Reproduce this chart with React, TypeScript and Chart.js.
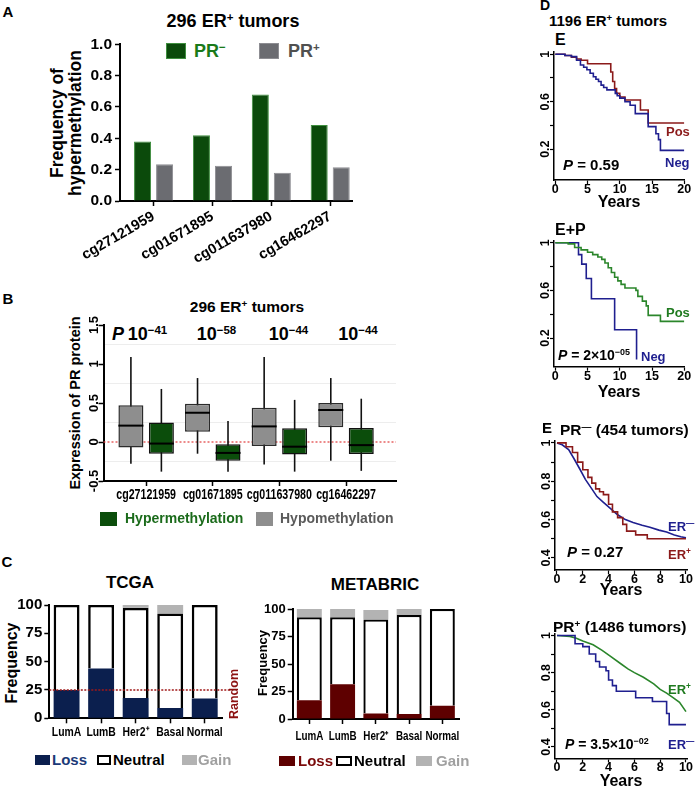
import React, { useEffect, useRef } from 'react';
import { Chart, registerables } from 'chart.js';

Chart.register(...registerables);

const FONT = "'Liberation Sans', Arial, Helvetica, sans-serif";
Chart.defaults.font.family = FONT;
Chart.defaults.color = '#000';

// ---------------- data ----------------
// Panel A
const probes = ['cg27121959', 'cg01671895', 'cg011637980', 'cg16462297'];
const prNegFreq = [0.38, 0.42, 0.68, 0.485];
const prPosFreq = [0.235, 0.225, 0.18, 0.215];
const freqTicks = [0, 0.2, 0.4, 0.6, 0.8, 1.0];

// Panel B (box plots)
const hypoMin = [-0.28, -0.15, -0.29, -0.24];
const hypoQ1 = [-0.07, 0.13, -0.05, 0.19];
const hypoMed = [0.21, 0.375, 0.2, 0.41];
const hypoQ3 = [0.47, 0.49, 0.44, 0.5];
const hypoMax = [1.09, 0.82, 1.09, 0.82];
const hyperMin = [-0.38, -0.38, -0.38, -0.37];
const hyperQ1 = [-0.15, -0.24, -0.16, -0.155];
const hyperMed = [-0.02, -0.14, -0.06, -0.04];
const hyperQ3 = [0.25, -0.03, 0.175, 0.18];
const hyperMax = [0.68, 0.27, 0.54, 0.555];
const pExp = ['−41', '−58', '−44', '−44'];

// Panel C
const subtypes = ['LumA', 'LumB', 'Her2⁺', 'Basal', 'Normal'];
const tcgaLoss = [25, 44, 18, 9, 17.5];
const tcgaNeutral = [75, 56, 79.5, 83.5, 82.5];
const tcgaGain = [0, 0, 2.5, 7.5, 0];
const metaLoss = [17, 31.5, 5, 4.5, 12];
const metaNeutral = [75.5, 61, 85.5, 90, 88];
const metaGain = [7.5, 7.5, 8.5, 5.5, 0];
const randomLevel = 25;
const pctTicks = [0, 25, 50, 75, 100];

// Panel D (Kaplan-Meier, 1196 ER+ tumors)
const years20 = [0, 5, 10, 15, 20];
const ePosT = [0, 1.5, 2.5, 3.3, 4.0, 5.0, 8.6, 8.9, 9.2, 9.5, 10.0, 10.8, 13.2, 14.4, 20];
const ePosS = [1, 0.99, 0.975, 0.96, 0.95, 0.92, 0.85, 0.77, 0.71, 0.67, 0.64, 0.615, 0.53, 0.42, 0.42];
const eNegT = [0, 1.5, 2.5, 3.3, 3.9, 4.4, 4.9, 5.4, 5.9, 6.3, 6.7, 7.1, 7.5, 8.0, 9.3, 9.6, 10.0, 10.8, 11.6, 12.4, 14.4, 15.6, 16.0, 16.3, 20];
const eNegS = [1, 0.99, 0.98, 0.95, 0.91, 0.89, 0.87, 0.84, 0.81, 0.79, 0.77, 0.74, 0.72, 0.7, 0.67, 0.65, 0.63, 0.6, 0.57, 0.5, 0.39, 0.33, 0.28, 0.19, 0.19];
const epPosT = [0, 2.0, 3.0, 4.0, 5.0, 5.8, 6.6, 7.2, 7.7, 8.2, 8.7, 9.2, 9.7, 10.2, 10.8, 12.5, 12.8, 13.5, 14.1, 14.4, 16.3, 20];
const epPosS = [1, 0.99, 0.96, 0.94, 0.92, 0.9, 0.88, 0.86, 0.83, 0.79, 0.75, 0.71, 0.68, 0.65, 0.62, 0.6, 0.55, 0.51, 0.47, 0.39, 0.34, 0.34];
const epNegT = [0, 3.6, 4.1, 4.8, 5.6, 9.2, 12.6];
const epNegS = [1, 0.9, 0.82, 0.7, 0.53, 0.27, 0.02];
const dSurvTicks = [0.2, 0.4, 0.6, 0.8, 1];
const dSurvLabels = ['0.2', '', '0.6', '', '1'];

// Panel E (Kaplan-Meier by PR status)
const years10 = [0, 2, 4, 6, 8, 10];
const prnErNegT = [0, 0.4, 0.9, 1.3, 1.8, 2.2, 2.7, 3.1, 3.6, 4.2, 4.7, 5.3, 5.9, 6.6, 7.2, 7.9, 8.5, 9.1, 9.6, 10];
const prnErNegS = [1, 0.99, 0.965, 0.92, 0.86, 0.81, 0.76, 0.72, 0.69, 0.655, 0.625, 0.6, 0.585, 0.57, 0.56, 0.545, 0.535, 0.52, 0.51, 0.505];
const prnErPosT = [0, 0.7, 1.2, 1.6, 2.0, 2.4, 2.7, 3.0, 3.3, 3.6, 4.0, 4.3, 4.7, 5.1, 5.4, 6.1, 7.0, 10];
const prnErPosS = [1, 0.98, 0.95, 0.9, 0.86, 0.82, 0.79, 0.76, 0.745, 0.73, 0.68, 0.64, 0.61, 0.575, 0.54, 0.52, 0.5, 0.5];
const prpErPosT = [0, 1.0, 1.5, 2.0, 2.8, 3.5, 4.1, 5.0, 5.5, 6.0, 6.7, 7.5, 8.0, 8.5, 9.0, 9.5, 10];
const prpErPosS = [1, 0.995, 0.985, 0.97, 0.95, 0.92, 0.89, 0.845, 0.82, 0.8, 0.775, 0.74, 0.71, 0.69, 0.665, 0.64, 0.59];
const prpErNegT = [0, 1.4, 2.0, 2.5, 3.0, 3.3, 3.8, 4.0, 4.3, 4.6, 6.1, 7.4, 8.5, 8.7, 10];
const prpErNegS = [1, 0.955, 0.94, 0.9, 0.86, 0.83, 0.81, 0.76, 0.73, 0.7, 0.665, 0.645, 0.58, 0.52, 0.52];
const eSurvTicks = [0.4, 0.5, 0.6, 0.7, 0.8, 0.9, 1];
const eSurvLabels = ['0.4', '', '0.6', '', '0.8', '', '1'];

// colours
const GREEN_BAR = '#0b4a0b';
const GREY_BAR = '#6b6c71';
const NAVY = '#1f1f8f';
const DARKRED = '#8b1a1a';
const KMGREEN = '#2b862b';

// ---------------- helpers ----------------
type Area = { l: number; t: number; r: number; b: number };
type Margins = { ml: number; mt: number; mr: number; mb: number };

function ChartBox({ area, m, make }: { area: Area; m: Margins; make: (mm: Margins) => any }) {
  const ref = useRef<HTMLCanvasElement>(null);
  const left = Math.floor(area.l - m.ml);
  const top = Math.floor(area.t - m.mt);
  const width = Math.ceil(area.r + m.mr - left);
  const height = Math.ceil(area.b + m.mb - top);
  const mm = { ml: area.l - left, mt: area.t - top, mr: left + width - area.r, mb: top + height - area.b };
  useEffect(() => {
    const chart = new Chart(ref.current as HTMLCanvasElement, make(mm));
    return () => chart.destroy();
  }, []);
  return (
    <canvas ref={ref} width={width} height={height}
      style={{ position: 'absolute', left, top, width, height }} />
  );
}

function baseOptions(mm: Margins, scales: any) {
  return {
    responsive: false,
    animation: false,
    events: [],
    layout: { padding: { left: 0, top: mm.mt, right: mm.mr, bottom: 0 } },
    plugins: { legend: { display: false }, tooltip: { enabled: false }, title: { display: false } },
    scales,
  };
}

function xAxis(mm: Margins, o: any) {
  const ticks: any = {
    display: o.showTicks !== false,
    autoSkip: false, color: '#000', font: { family: FONT, size: o.fs, weight: '700' },
    padding: o.pad === undefined ? 2 : o.pad,
    minRotation: o.rot || 0, maxRotation: o.rot || 0,
  };
  if (o.cb) ticks.callback = o.cb;
  const ax: any = {
    type: o.type || 'linear',
    offset: o.offset || false,
    stacked: o.stacked || false,
    afterFit: (s: any) => { s.height = mm.mb; },
    border: { display: true, color: '#000', width: o.bw || 2 },
    grid: { display: true, drawOnChartArea: false, drawTicks: true, tickLength: o.tl || 5, color: '#000', tickWidth: o.tw || 1.5, offset: false },
    ticks,
  };
  if (o.min !== undefined) ax.min = o.min;
  if (o.max !== undefined) ax.max = o.max;
  if (o.tickValues) ax.afterBuildTicks = (s: any) => { s.ticks = o.tickValues.map((v: number) => ({ value: v })); };
  return ax;
}

function yAxis(mm: Margins, o: any) {
  const ticks: any = {
    display: o.showTicks !== false, color: '#000', font: { family: FONT, size: o.fs || 12, weight: '700' },
    padding: o.pad === undefined ? 3 : o.pad,
  };
  if (o.cb) ticks.callback = o.cb;
  const ax: any = {
    type: 'linear',
    min: o.min,
    max: o.max,
    stacked: o.stacked || false,
    afterFit: (s: any) => { s.width = mm.ml; },
    border: { display: true, color: '#000', width: o.bw || 2 },
    grid: o.grid || { display: true, drawOnChartArea: false, drawTicks: true, tickLength: o.tl || 5, color: '#000', tickWidth: o.tw || 1.5 },
    ticks,
  };
  if (o.tickValues) ax.afterBuildTicks = (s: any) => { s.ticks = o.tickValues.map((v: number) => ({ value: v })); };
  return ax;
}

function rotatedYLabels(ticks: number[], labels: string[], size: number, gap: number) {
  return {
    id: 'rotYLabels',
    afterDraw(chart: any) {
      const s = chart.scales.y;
      const ctx = chart.ctx;
      ctx.save();
      ctx.font = `bold ${size}px ${FONT}`;
      ctx.fillStyle = '#000';
      ctx.textAlign = 'center';
      ctx.textBaseline = 'middle';
      ticks.forEach((v, i) => {
        const lbl = labels[i];
        if (!lbl) return;
        const y = s.getPixelForValue(v);
        ctx.save();
        ctx.translate(s.right - gap, y);
        ctx.rotate(-Math.PI / 2);
        ctx.fillText(lbl, 0, 0);
        ctx.restore();
      });
      ctx.restore();
    },
  };
}

// condensed category labels drawn under the x axis (through the x scale)
function condensedXLabels(labels: string[], size: number, squeeze: number, dy: number) {
  return {
    id: 'condensedX',
    afterDraw(chart: any) {
      const s = chart.scales.x;
      const ctx = chart.ctx;
      ctx.save();
      ctx.font = `bold ${size}px ${FONT}`;
      ctx.fillStyle = '#000';
      ctx.textAlign = 'center';
      ctx.textBaseline = 'middle';
      labels.forEach((lbl, i) => {
        const x = s.getPixelForValue(i);
        ctx.save();
        ctx.translate(x, s.top + dy);
        ctx.scale(squeeze, 1);
        ctx.fillText(lbl, 0, 0);
        ctx.restore();
      });
      ctx.restore();
    },
  };
}

// ---------------- chart configs ----------------
const makeA = (mm: Margins) => ({
  type: 'bar',
  data: {
    datasets: [
      { label: 'PR−', data: prNegFreq.map((v, i) => ({ x: i, y: v })), backgroundColor: GREEN_BAR, borderColor: '#3f8f3f', borderWidth: 1, categoryPercentage: 0.748, barPercentage: 0.773 },
      { label: 'PR+', data: prPosFreq.map((v, i) => ({ x: i, y: v })), backgroundColor: GREY_BAR, borderColor: '#8d8d92', borderWidth: 1, categoryPercentage: 0.748, barPercentage: 0.773 },
    ],
  },
  options: baseOptions(mm, {
    x: xAxis(mm, { min: -0.57, max: 3.37, tickValues: probes.map((_, i) => i), cb: (v: number) => probes[v], fs: 14.5, rot: 30, pad: 2 }),
    y: yAxis(mm, { min: 0, max: 1, tickValues: freqTicks, cb: (v: number) => v.toFixed(1), fs: 15.5 }),
  }),
});

const boxWhiskerPlugin = () => ({
  id: 'boxWhisker',
  beforeDatasetsDraw(chart: any) {
    const { ctx, chartArea } = chart;
    const y = chart.scales.y;
    ctx.save();
    ctx.strokeStyle = '#e03c3c';
    ctx.lineWidth = 1.2;
    ctx.setLineDash([2, 2]);
    const y0 = y.getPixelForValue(0);
    ctx.beginPath();
    ctx.moveTo(chartArea.left, y0);
    ctx.lineTo(chartArea.right, y0);
    ctx.stroke();
    ctx.setLineDash([]);
    ctx.strokeStyle = '#111';
    ctx.lineWidth = 1.6;
    [[hypoMin, hypoMax], [hyperMin, hyperMax]].forEach(([lo, hi], di) => {
      chart.getDatasetMeta(di).data.forEach((el: any, i: number) => {
        ctx.beginPath();
        ctx.moveTo(el.x, y.getPixelForValue(lo[i]));
        ctx.lineTo(el.x, y.getPixelForValue(hi[i]));
        ctx.stroke();
      });
    });
    ctx.restore();
  },
  afterDatasetsDraw(chart: any) {
    const { ctx } = chart;
    const y = chart.scales.y;
    ctx.save();
    ctx.strokeStyle = '#000';
    ctx.lineWidth = 2;
    [hypoMed, hyperMed].forEach((med, di) => {
      chart.getDatasetMeta(di).data.forEach((el: any, i: number) => {
        const py = y.getPixelForValue(med[i]);
        ctx.beginPath();
        ctx.moveTo(el.x - el.width / 2, py);
        ctx.lineTo(el.x + el.width / 2, py);
        ctx.stroke();
      });
    });
    ctx.restore();
  },
});

const bTicks = [-0.5, -0.25, 0, 0.25, 0.5, 0.75, 1, 1.25, 1.5];
const isHalf = (v: number) => Math.abs(v * 2 - Math.round(v * 2)) < 1e-6;

const makeB = (mm: Margins) => ({
  type: 'bar',
  data: {
    datasets: [
      { label: 'Hypomethylation', data: hypoQ1.map((q, i) => ({ x: i, y: [q, hypoQ3[i]] })), backgroundColor: '#8e8e8e', borderColor: '#2b2b2b', borderWidth: 1.5, borderSkipped: false, categoryPercentage: 0.915, barPercentage: 0.82 },
      { label: 'Hypermethylation', data: hyperQ1.map((q, i) => ({ x: i, y: [q, hyperQ3[i]] })), backgroundColor: '#0b4d0b', borderColor: '#111', borderWidth: 1.5, borderSkipped: false, categoryPercentage: 0.915, barPercentage: 0.82 },
    ],
  },
  options: baseOptions(mm, {
    x: xAxis(mm, { min: -0.64, max: 3.75, tickValues: probes.map((_, i) => i), showTicks: false, fs: 12 }),
    y: yAxis(mm, {
      min: -0.5, max: 1.5, tickValues: bTicks, showTicks: false,
      grid: {
        display: true, drawOnChartArea: true, drawTicks: true, tickLength: 5, lineWidth: 1, tickWidth: 1.5,
        color: (c: any) => (c.tick && !isHalf(c.tick.value) ? 'rgba(0,0,0,0.07)' : 'rgba(0,0,0,0)'),
        tickColor: (c: any) => (c.tick && isHalf(c.tick.value) ? '#000' : 'rgba(0,0,0,0)'),
      },
    }),
  }),
  plugins: [
    boxWhiskerPlugin(),
    rotatedYLabels(bTicks, bTicks.map((v) => (isHalf(v) ? String(v) : '')), 13, 9.5),
    condensedXLabels(probes, 14, 0.76, 14),
  ],
});

const randomLinePlugin = () => ({
  id: 'randomLine',
  afterDatasetsDraw(chart: any) {
    const { ctx, chartArea } = chart;
    const py = chart.scales.y.getPixelForValue(randomLevel);
    ctx.save();
    ctx.strokeStyle = '#a01818';
    ctx.lineWidth = 1.5;
    ctx.setLineDash([2, 1.5]);
    ctx.beginPath();
    ctx.moveTo(chartArea.left, py);
    ctx.lineTo(chartArea.right + 8, py);
    ctx.stroke();
    ctx.restore();
  },
});

const makeStacked = (loss: number[], neutral: number[], gain: number[], lossColor: string, fsY: number, fsX: number, sqX: number, dyX: number, bw: number, withRandom: boolean) => (mm: Margins) => ({
  type: 'bar',
  data: {
    labels: subtypes,
    datasets: [
      { label: 'Loss', data: loss, backgroundColor: lossColor, borderWidth: 0, categoryPercentage: 0.75, barPercentage: 1 },
      { label: 'Neutral', data: neutral, backgroundColor: '#ffffff', borderColor: '#000', borderWidth: bw, categoryPercentage: 0.75, barPercentage: 1 },
      { label: 'Gain', data: gain, backgroundColor: '#b3b3b3', borderWidth: 0, categoryPercentage: 0.75, barPercentage: 1 },
    ],
  },
  options: baseOptions(mm, {
    x: xAxis(mm, { type: 'category', offset: true, stacked: true, fs: fsX, showTicks: false }),
    y: yAxis(mm, { min: 0, max: 100, stacked: true, tickValues: pctTicks, fs: fsY, pad: 2 }),
  }),
  plugins: withRandom
    ? [randomLinePlugin(), condensedXLabels(subtypes, fsX, sqX, dyX)]
    : [condensedXLabels(subtypes, fsX, sqX, dyX)],
});

type Curve = { t: number[]; s: number[]; color: string; stepped: boolean };

const makeKM = (curves: Curve[], xr: [number, number], xTicks: number[], yr: [number, number], yTicks: number[], yLabels: string[]) => (mm: Margins) => ({
  type: 'line',
  data: {
    datasets: curves.map((c) => ({
      data: c.t.map((t, i) => ({ x: t, y: c.s[i] })),
      borderColor: c.color,
      borderWidth: 1.6,
      pointRadius: 0,
      fill: false,
      stepped: c.stepped,
      tension: 0,
    })),
  },
  options: baseOptions(mm, {
    x: xAxis(mm, { min: xr[0], max: xr[1], tickValues: xTicks, fs: 12.5, tl: 4, pad: -2, bw: 1.5, tw: 1.2 }),
    y: yAxis(mm, { min: yr[0], max: yr[1], tickValues: yTicks, showTicks: false, tl: 4, bw: 1.5, tw: 1.2 }),
  }),
  plugins: [rotatedYLabels(yTicks, yLabels, 12.5, 8.5)],
});

const makeDTop = makeKM(
  [
    { t: eNegT, s: eNegS, color: NAVY, stepped: true },
    { t: ePosT, s: ePosS, color: DARKRED, stepped: true },
  ],
  [-0.2, 20], years20, [-0.06, 1.02], dSurvTicks, dSurvLabels,
);
const makeDBot = makeKM(
  [
    { t: epPosT, s: epPosS, color: KMGREEN, stepped: true },
    { t: epNegT, s: epNegS, color: NAVY, stepped: true },
  ],
  [-0.2, 20], years20, [-0.04, 1.02], dSurvTicks, dSurvLabels,
);
const makeETop = makeKM(
  [
    { t: prnErPosT, s: prnErPosS, color: DARKRED, stepped: true },
    { t: prnErNegT, s: prnErNegS, color: NAVY, stepped: false },
  ],
  [-0.155, 10.08], years10, [0.337, 1.01], eSurvTicks, eSurvLabels,
);
const makeEBot = makeKM(
  [
    { t: prpErNegT, s: prpErNegS, color: NAVY, stepped: true },
    { t: prpErPosT, s: prpErPosS, color: KMGREEN, stepped: false },
  ],
  [-0.155, 10.08], years10, [0.339, 1.01], eSurvTicks, eSurvLabels,
);

// ---------------- text helpers ----------------
type TP = { x: number; y: number; size: number; color?: string; align?: 'left' | 'center'; rot?: boolean; lh?: number; children: React.ReactNode };
function Txt({ x, y, size, color = '#000', align = 'center', rot = false, lh = 1.1, children }: TP) {
  const tr = (align === 'center' ? 'translate(-50%,-50%)' : 'translate(0,-50%)') + (rot ? ' rotate(-90deg)' : '');
  return (
    <div style={{ position: 'absolute', left: x, top: y, transform: tr, font: `bold ${size}px ${FONT}`, lineHeight: lh, color, whiteSpace: 'nowrap', textAlign: 'center' }}>
      {children}
    </div>
  );
}
const Sup = ({ children }: { children: React.ReactNode }) => (
  <span style={{ fontSize: '0.64em', position: 'relative', top: '-0.55em' }}>{children}</span>
);
const It = ({ children }: { children: React.ReactNode }) => <span style={{ fontStyle: 'italic' }}>{children}</span>;
function Sq({ x, y, w, h, fill, border }: { x: number; y: number; w: number; h: number; fill: string; border?: string }) {
  return <div style={{ position: 'absolute', left: x, top: y, width: w, height: h, background: fill, border: border || 'none', boxSizing: 'border-box' }} />;
}

const pCenters = [147.5, 216.5, 288.5, 358];

export default function App() {
  return (
    <div style={{ position: 'absolute', left: 0, top: 0, width: 700, height: 787, background: '#fff', overflow: 'hidden', fontFamily: FONT }}>
      {/* ---------- Panel A ---------- */}
      <Txt x={8} y={12} size={15}>A</Txt>
      <Txt x={233} y={22} size={18}>296 ER<Sup>+</Sup> tumors</Txt>
      <Txt x={66} y={123} size={17.5} rot lh={1.0}>Frequency of<br />hypermethylation</Txt>
      <Sq x={166} y={43} w={20} h={16} fill={GREEN_BAR} border="1px solid #3f8f3f" />
      <Txt x={194} y={52} size={18} align="left" color="#1a7a1a">PR<Sup>−</Sup></Txt>
      <Sq x={259} y={43} w={20} h={16} fill={GREY_BAR} border="1px solid #8d8d92" />
      <Txt x={288} y={52} size={18} align="left" color="#505050">PR<Sup>+</Sup></Txt>
      <ChartBox area={{ l: 120, t: 44.3, r: 352, b: 201 }} m={{ ml: 60, mt: 14, mr: 14, mb: 70 }} make={makeA} />

      {/* ---------- Panel B ---------- */}
      <Txt x={8} y={299} size={15}>B</Txt>
      <Txt x={247} y={307} size={15.5}>296 ER<Sup>+</Sup> tumors</Txt>
      <Txt x={76} y={403} size={14.5} rot>Expression of PR protein</Txt>
      <Txt x={118} y={335} size={18}><It>P</It></Txt>
      {pExp.map((e, i) => (
        <Txt key={i} x={pCenters[i]} y={335} size={18}>10<Sup>{e}</Sup></Txt>
      ))}
      <ChartBox area={{ l: 103.5, t: 325, r: 396, b: 481 }} m={{ ml: 40, mt: 12, mr: 12, mb: 30 }} make={makeB} />
      <Sq x={100} y={512} w={17} h={14} fill="#0b4d0b" />
      <Txt x={125} y={519} size={14} align="left" color="#1b6b1b">Hypermethylation</Txt>
      <Sq x={256} y={512} w={17} h={14} fill="#8e8e8e" />
      <Txt x={280} y={519} size={14} align="left" color="#5a5a5a">Hypomethylation</Txt>

      {/* ---------- Panel C ---------- */}
      <Txt x={7} y={562} size={15}>C</Txt>
      <Txt x={130} y={583} size={17}>TCGA</Txt>
      <Txt x={12} y={663} size={16} rot>Frequency</Txt>
      <ChartBox area={{ l: 49.3, t: 605, r: 222, b: 718.3 }} m={{ ml: 45, mt: 14, mr: 18, mb: 25 }}
        make={makeStacked(tcgaLoss, tcgaNeutral, tcgaGain, '#0b1f4e', 15, 13, 0.8, 14, 2.6, true)} />
      <Txt x={235} y={694} size={12.5} rot color="#8b1010">Random</Txt>
      <Sq x={35} y={755} w={15} h={10} fill="#0b1f4e" />
      <Txt x={52} y={760} size={15} align="left" color="#1c3a78">Loss</Txt>
      <Sq x={97} y={755} w={14} h={10} fill="#fff" border="2px solid #000" />
      <Txt x={113} y={760} size={15} align="left">Neutral</Txt>
      <Sq x={182} y={755} w={15} h={10} fill="#b3b3b3" />
      <Txt x={198} y={760} size={15} align="left" color="#a0a0a0">Gain</Txt>

      <Txt x={375} y={585} size={17}>METABRIC</Txt>
      <Txt x={263} y={663} size={13} rot>Frequency</Txt>
      <ChartBox area={{ l: 292.7, t: 609, r: 459, b: 719 }} m={{ ml: 32, mt: 12, mr: 14, mb: 24 }}
        make={makeStacked(metaLoss, metaNeutral, metaGain, '#5e0000', 13, 12, 0.82, 18, 2.3, false)} />
      <Sq x={279} y={756} w={16} h={10} fill="#5e0000" />
      <Txt x={298} y={761} size={15} align="left" color="#7a0a0a">Loss</Txt>
      <Sq x={336} y={756} w={16} h={10} fill="#fff" border="2px solid #000" />
      <Txt x={354} y={761} size={15} align="left">Neutral</Txt>
      <Sq x={416} y={756} w={16} h={10} fill="#b3b3b3" />
      <Txt x={436} y={761} size={15} align="left" color="#a0a0a0">Gain</Txt>

      {/* ---------- Panel D ---------- */}
      <Txt x={545} y={6} size={14}>D</Txt>
      <Txt x={549} y={21} size={15} align="left">1196 ER<Sup>+</Sup> tumors</Txt>
      <Txt x={555} y={40} size={16} align="left">E</Txt>
      <ChartBox area={{ l: 554, t: 51.9, r: 684.3, b: 180 }} m={{ ml: 18, mt: 8, mr: 14, mb: 18 }} make={makeDTop} />
      <Txt x={666} y={132} size={13} align="left" color={DARKRED}>Pos</Txt>
      <Txt x={665} y={163} size={13} align="left" color={NAVY}>Neg</Txt>
      <Txt x={563} y={165} size={15} align="left"><It>P</It> = 0.59</Txt>
      <Txt x={619} y={202} size={16}>Years</Txt>

      <Txt x={555} y={230} size={16} align="left">E+P</Txt>
      <ChartBox area={{ l: 554, t: 240.3, r: 684.3, b: 366.7 }} m={{ ml: 18, mt: 8, mr: 14, mb: 18 }} make={makeDBot} />
      <Txt x={666} y={313} size={13} align="left" color="#1f7a1f">Pos</Txt>
      <Txt x={641} y={357} size={13} align="left" color={NAVY}>Neg</Txt>
      <Txt x={558} y={356} size={14} align="left"><It>P</It> = 2×10<Sup>−05</Sup></Txt>
      <Txt x={619} y={392} size={16}>Years</Txt>

      {/* ---------- Panel E ---------- */}
      <Txt x={547} y={428} size={15}>E</Txt>
      <Txt x={560} y={430} size={15.5} align="left">PR<Sup>—</Sup> (454 tumors)</Txt>
      <ChartBox area={{ l: 555, t: 441, r: 687, b: 570 }} m={{ ml: 18, mt: 8, mr: 13, mb: 16 }} make={makeETop} />
      <Txt x={668} y={527} size={13} align="left" color={NAVY}>ER<Sup>—</Sup></Txt>
      <Txt x={668} y={555} size={13} align="left" color={DARKRED}>ER<Sup>+</Sup></Txt>
      <Txt x={567} y={552} size={15} align="left"><It>P</It> = 0.27</Txt>
      <Txt x={621} y={590} size={16}>Years</Txt>

      <Txt x={553} y={627} size={15.5} align="left">PR<Sup>+</Sup> (1486 tumors)</Txt>
      <ChartBox area={{ l: 555, t: 633.6, r: 687, b: 758.3 }} m={{ ml: 18, mt: 8, mr: 13, mb: 16 }} make={makeEBot} />
      <Txt x={668} y={690} size={13} align="left" color="#1f7a1f">ER<Sup>+</Sup></Txt>
      <Txt x={668} y={745} size={13} align="left" color={NAVY}>ER<Sup>—</Sup></Txt>
      <Txt x={565} y={745} size={14} align="left"><It>P</It> = 3.5×10<Sup>−02</Sup></Txt>
      <Txt x={621} y={781} size={16}>Years</Txt>
    </div>
  );
}
